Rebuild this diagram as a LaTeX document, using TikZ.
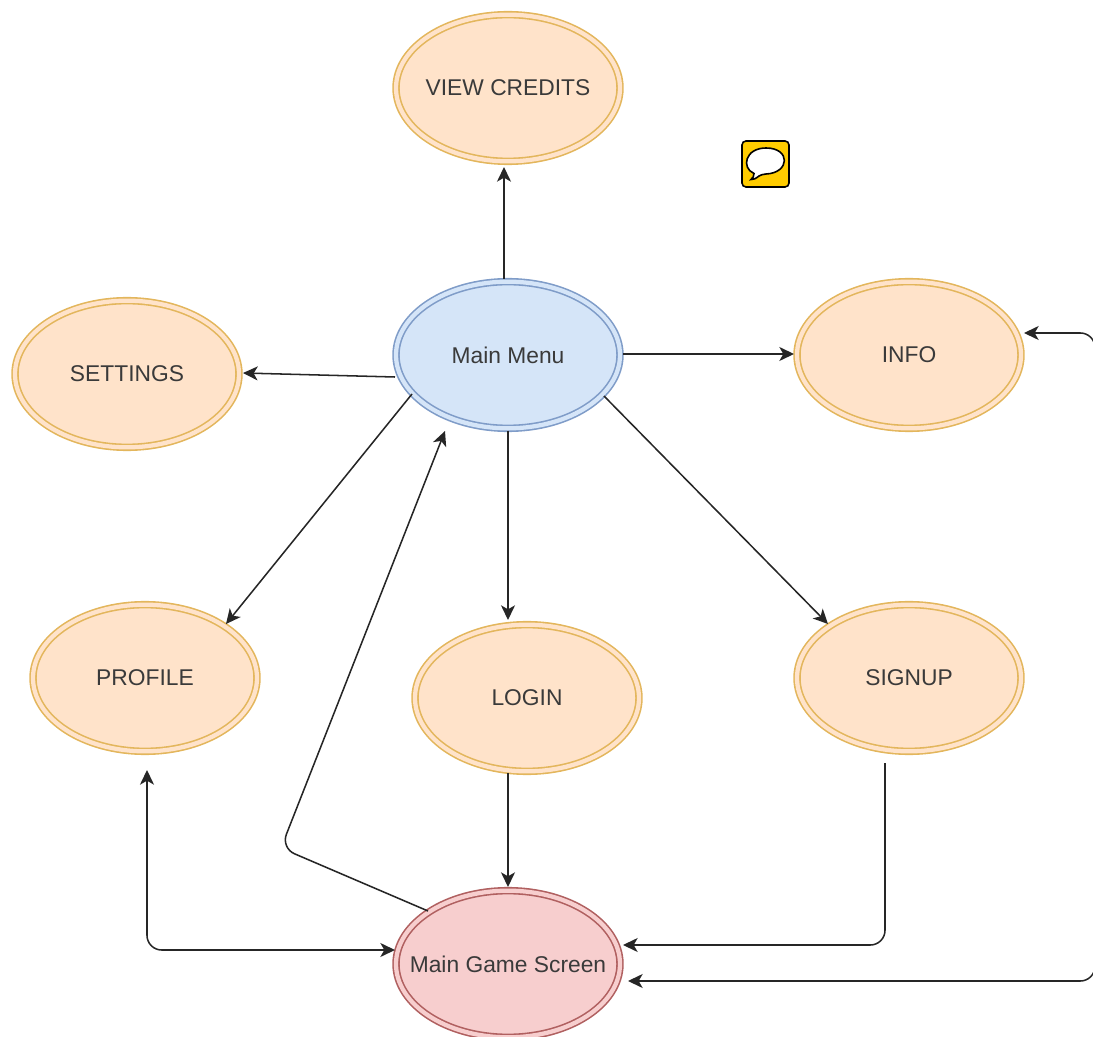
\documentclass[tikz,border=0pt]{standalone}
\usepackage{fontspec}
\setmainfont{Liberation Sans}
\usetikzlibrary{arrows.meta,shapes.geometric}
\definecolor{orF}{HTML}{FFE3CA}
\definecolor{orD}{HTML}{E3B65C}
\definecolor{blF}{HTML}{D5E5F8}
\definecolor{blD}{HTML}{7F9CC8}
\definecolor{rdF}{HTML}{F7CECE}
\definecolor{rdD}{HTML}{B06060}
\definecolor{txt}{HTML}{3A3A3A}
\definecolor{iconY}{HTML}{FFCC00}
\newcommand{\lbl}[1]{\makebox[0pt][c]{#1}}
\tikzset{
 x=0.75pt,y=-0.75pt,
 state/.style={ellipse,inner sep=0pt,outer sep=0pt,minimum width=168pt,minimum height=110pt,
   line width=1.2pt,double distance=3.2pt,text=txt,font=\fontsize{17.1pt}{20pt}\selectfont},
 orange state/.style={state,fill=orF,draw=orD,double=orF},
 blue state/.style={state,fill=blF,draw=blD,double=blF},
 red state/.style={state,fill=rdF,draw=rdD,double=rdF},
 link/.style={line width=1.15pt,draw=black!85,-{Stealth[length=11pt,width=10.5pt,inset=3pt]},rounded corners=11pt},
 twoway/.style={link,{Stealth[length=11pt,width=10.5pt,inset=3pt]}-{Stealth[length=11pt,width=10.5pt,inset=3pt]}}
}
\begin{document}
\begin{tikzpicture}
\useasboundingbox (0,0) rectangle (1093,1037);
\node[orange state] (credits) at (508,88) {\lbl{VIEW CREDITS}};
\node[blue state] (main) at (508,355) {\lbl{Main Menu}};
\node[orange state] (settings) at (127,374) {\lbl{SETTINGS}};
\node[orange state] (info) at (909,355) {\lbl{INFO}};
\node[orange state] (profile) at (145,678) {\lbl{PROFILE}};
\node[orange state] (login) at (527,698) {\lbl{LOGIN}};
\node[orange state] (signup) at (909,678) {\lbl{SIGNUP}};
\node[red state] (game) at (508,964) {\lbl{Main Game Screen}};
% connector ends
\coordinate (mT) at (504,279); \coordinate (cB) at (504,167);
\coordinate (mL) at (395,377); \coordinate (sR) at (243,373);
\coordinate (mR) at (623,354); \coordinate (iL) at (794,354);
\coordinate (mBL) at (412,394); \coordinate (pTR) at (226,624);
\coordinate (mB) at (508,431); \coordinate (lT) at (508,620);
\coordinate (mBR) at (604,396); \coordinate (sTL) at (828,624);
\coordinate (lB) at (508,773); \coordinate (gT) at (508,887);
\coordinate (sB) at (885,763); \coordinate (gR1) at (623,945);
\coordinate (pB) at (147,770); \coordinate (gL) at (395,950);
\coordinate (gTL) at (428,911); \coordinate (mBL2) at (445,431);
\coordinate (iR) at (1024,333); \coordinate (gR2) at (628,981);
\draw[link] (mT) -- (cB);
\draw[link] (mL) -- (sR);
\draw[link] (mR) -- (iL);
\draw[link] (mBL) -- (pTR);
\draw[link] (mB) -- (lT);
\draw[link] (mBR) -- (sTL);
\draw[link] (lB) -- (gT);
\draw[link] (sB) -- (885,945) -- (gR1);
\draw[twoway] (pB) -- (147,950) -- (gL);
\draw[link] (gTL) -- (281,848) -- (mBL2);
\draw[twoway] (iR) -- (1095,333) -- (1095,981) -- (gR2);
% comment icon
\draw[fill=iconY,draw=black,line width=1.2pt,rounded corners=3pt] (742,141) rectangle (789,187);
\draw[fill=white,draw=black,line width=1.2pt]
  (754,173.5) .. controls (741,168) and (745,148) .. (766,148)
  .. controls (791,148) and (790,173) .. (766,174)
  .. controls (763,174) and (761,175) .. (759,176)
  .. controls (756,178.5) and (753,180) .. (751,179.5)
  .. controls (753,178) and (754,176) .. (754,173.5) -- cycle;
\end{tikzpicture}
\end{document}
